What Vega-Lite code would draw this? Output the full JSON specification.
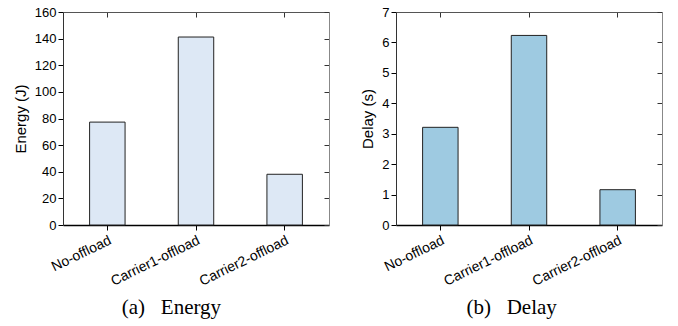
{
  "$schema": "https://vega.github.io/schema/vega-lite/v6.json",
  "padding": {"left": 13, "top": 6, "right": 5, "bottom": 2},
  "background": "white",
  "spacing": 30,
  "config": {
    "view": {"stroke": null},
    "axis": {"labelFont": "Liberation Sans", "titleFont": "Liberation Sans", "labelFontSize": 13, "titleFontSize": 15, "titleFontWeight": "normal", "labelColor": "#000", "titleColor": "#000", "grid": false, "tickColor": "#000", "domainColor": "#000"}
  },
  "hconcat": [
    {
      "width": 266, "height": 213,
      "data": {"values": [
        {"method": "No-offload", "value": 77.3},
        {"method": "Carrier1-offload", "value": 141.2},
        {"method": "Carrier2-offload", "value": 38.1}
      ]},
      "title": {"text": "(a)\u2002 Energy", "orient": "bottom", "font": "Liberation Serif", "fontSize": 21, "fontWeight": "normal", "anchor": "middle", "frame": "bounds", "offset": 9, "color": "#000"},
      "layer": [
        {
          "mark": {"type": "bar", "fill": "#dde8f5", "stroke": "#222", "strokeWidth": 1},
          "encoding": {
            "x": {"field": "method", "type": "nominal", "sort": null, "scale": {"paddingInner": 0.6, "paddingOuter": 0.3},
                  "axis": {"title": null, "labelAngle": -26, "labelAlign": "right", "labelBaseline": "top", "labelFontSize": 14, "tickSize": 5, "domainWidth": 1.5, "labelPadding": 3}},
            "y": {"field": "value", "type": "quantitative", "scale": {"domain": [0, 160]},
                  "axis": {"title": "Energy (J)", "values": [0, 20, 40, 60, 80, 100, 120, 140, 160], "tickSize": 5, "labelPadding": 2, "titlePadding": 6, "domainColor": "#333"}}
          }
        },
        {
          "mark": {"type": "bar", "opacity": 0},
          "encoding": {
            "x": {"field": "method", "type": "nominal", "sort": null,
                  "axis": {"orient": "top", "title": null, "labels": false, "tickSize": -5, "domainColor": "#555", "tickColor": "#333"}},
            "y": {"field": "value", "type": "quantitative",
                  "axis": {"orient": "right", "title": null, "labels": false, "values": [0, 20, 40, 60, 80, 100, 120, 140, 160], "tickSize": -5, "domainColor": "#888", "tickColor": "#333"}}
          }
        }
      ],
      "resolve": {"axis": {"x": "independent", "y": "independent"}}
    },
    {
      "width": 266, "height": 213,
      "data": {"values": [
        {"method": "No-offload", "value": 3.21},
        {"method": "Carrier1-offload", "value": 6.23},
        {"method": "Carrier2-offload", "value": 1.16}
      ]},
      "title": {"text": "(b)\u2002 Delay", "orient": "bottom", "font": "Liberation Serif", "fontSize": 21, "fontWeight": "normal", "anchor": "middle", "frame": "bounds", "offset": 9, "color": "#000"},
      "layer": [
        {
          "mark": {"type": "bar", "fill": "#9ecae1", "stroke": "#222", "strokeWidth": 1},
          "encoding": {
            "x": {"field": "method", "type": "nominal", "sort": null, "scale": {"paddingInner": 0.6, "paddingOuter": 0.3},
                  "axis": {"title": null, "labelAngle": -26, "labelAlign": "right", "labelBaseline": "top", "labelFontSize": 14, "tickSize": 5, "domainWidth": 1.5, "labelPadding": 3}},
            "y": {"field": "value", "type": "quantitative", "scale": {"domain": [0, 7]},
                  "axis": {"title": "Delay (s)", "values": [0, 1, 2, 3, 4, 5, 6, 7], "tickSize": 5, "labelPadding": 2, "titlePadding": 6, "domainColor": "#333"}}
          }
        },
        {
          "mark": {"type": "bar", "opacity": 0},
          "encoding": {
            "x": {"field": "method", "type": "nominal", "sort": null,
                  "axis": {"orient": "top", "title": null, "labels": false, "tickSize": -5, "domainColor": "#555", "tickColor": "#333"}},
            "y": {"field": "value", "type": "quantitative",
                  "axis": {"orient": "right", "title": null, "labels": false, "values": [0, 1, 2, 3, 4, 5, 6, 7], "tickSize": -5, "domainColor": "#888", "tickColor": "#333"}}
          }
        }
      ],
      "resolve": {"axis": {"x": "independent", "y": "independent"}}
    }
  ]
}
